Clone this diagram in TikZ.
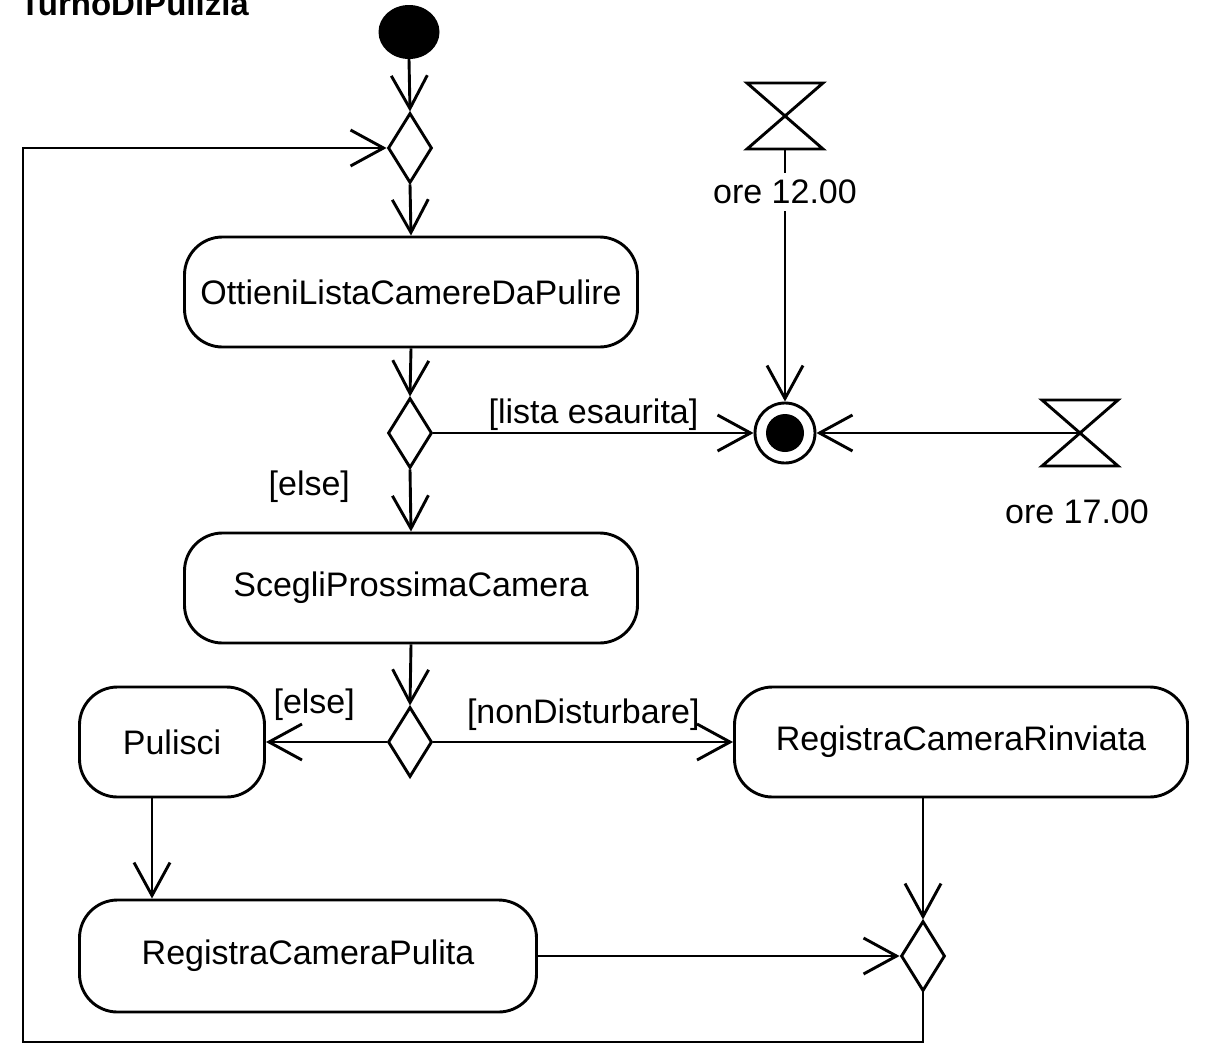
\documentclass[tikz,border=0pt]{standalone}
\usepackage{fontspec}
\setmainfont{Liberation Sans}
\usetikzlibrary{arrows.meta,shapes.geometric}
\tikzset{
	flow/.style={line width=2.9pt, -{Straight Barb[length=33pt,width=36pt]}},
	action/.style={draw, line width=2.9pt, rounded corners=38pt, minimum height=110pt, inner sep=0pt},
	choice/.style={draw, diamond, line width=2.9pt, minimum width=44pt, minimum height=70pt, inner sep=0pt},
	hourglass/.pic={\draw[line width=2.9pt, line join=miter] (-38,-33) -- (38,-33) -- (-38,33) -- (38,33) -- cycle;}
}

\begin{document}
\begin{tikzpicture}[x=1pt,y=-1pt,font=\fontsize{34}{40}\selectfont]
	\useasboundingbox (0,0) rectangle (1209,1044);
	% titolo
	\node[anchor=base west, inner sep=0pt, font=\fontsize{33}{40}\selectfont\bfseries] (titolo) at (20,16) {TurnoDiPulizia};

	% nodo iniziale e decisioni
	\node[ellipse, fill=black, minimum width=61pt, minimum height=54pt, inner sep=0pt] (inizio) at (409,32) {};
	\node[choice] (d1) at (410,148) {};
	\node[choice] (d2) at (410,433) {};
	\node[choice] (d3) at (410,742) {};
	\node[choice] (m2) at (923,956) {};

	% azioni
	\node[action, minimum width=453pt] (ott) at (411,292) {OttieniListaCamereDaPulire};
	\node[action, minimum width=453pt] (sce) at (411,588) {ScegliProssimaCamera};
	\node[action, minimum width=185pt] (puli) at (172,742) {Pulisci};
	\node[action, minimum width=453pt] (rinv) at (961,742) {RegistraCameraRinviata};
	\node[action, minimum width=457pt, minimum height=112pt] (pulita) at (308,956) {RegistraCameraPulita};

	% nodo finale
	\node[circle, draw, line width=2.9pt, minimum size=60pt, inner sep=0pt] (fin) at (785,433) {};
	\fill (fin.center) circle (19pt);

	% eventi temporali
	\pic at (785,116) {hourglass};
	\coordinate (t12) at (785,149);
	\pic at (1080,433) {hourglass};
	\coordinate (t17) at (1080,433);
	\node (l17) at (1077,512) {ore 17.00};

	% flussi
	\draw[flow] (inizio.south) -- (d1.north);
	\draw[flow] (d1.south) -- (ott.north);
	\draw[flow] (ott.south) -- (d2.north);
	\draw[flow] (d2.east) -- node[yshift=18pt] {[lista esaurita]} (fin.west);
	\draw[flow] (t12) -- node[pos=0.17, fill=white, inner sep=7pt] {ore 12.00} (fin.north);
	\draw[flow] (t17) -- (fin.east);
	\draw[flow] (d2.south) -- node[pos=0.28, xshift=-101pt] {[else]} (sce.north);
	\draw[flow] (sce.south) -- (d3.north);
	\draw[flow] (d3.west) -- node[pos=0.6, yshift=37pt] {[else]} (puli.east);
	\draw[flow] (d3.east) -- node[yshift=27pt] {[nonDisturbare]} (rinv.west);
	\draw[flow] ([xshift=-20pt]puli.south) -- ([xshift=-20pt]puli.south |- pulita.north);
	\draw[flow] (pulita.east) -- (m2.west);
	\draw[flow] (m2.north |- rinv.south) -- (m2.north);

	% ritorno al ciclo
	\coordinate (lb) at (23,1042);
	\draw[flow] (m2.south) |- (lb) |- (d1.west);
\end{tikzpicture}
\end{document}
